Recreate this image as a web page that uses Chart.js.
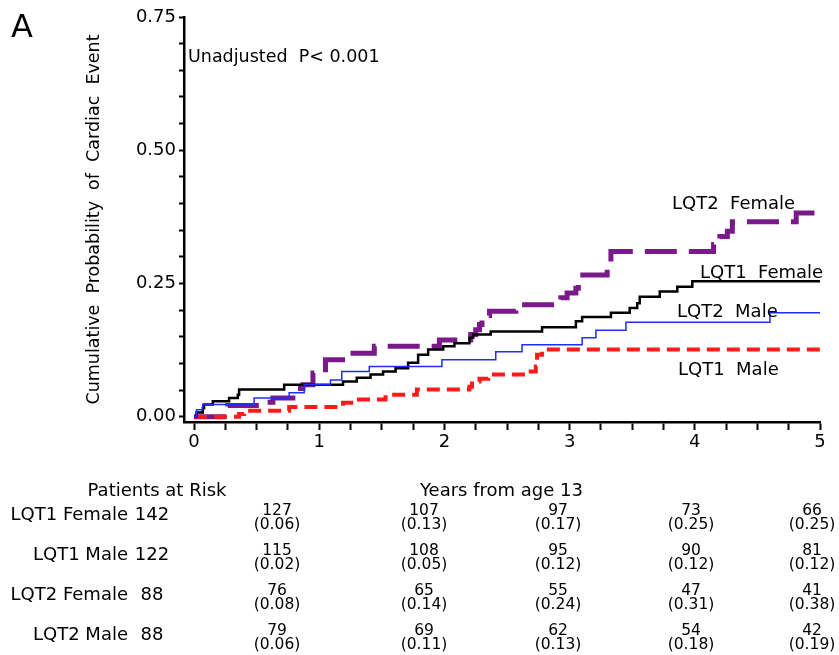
<!DOCTYPE html>
<html>
<head>
<meta charset="utf-8">
<script src="https://cdn.jsdelivr.net/npm/chart.js@4.4.0/dist/chart.umd.min.js"></script>
<style>
  body { margin: 0; background: #fff; }
  canvas { display: block; }
</style>
</head>
<body>
<canvas id="km" width="839" height="655"></canvas>
<script>
// Kaplan-Meier style curves: years from age 13 vs cumulative probability of cardiac event
const lqt1FemaleT = [0, 0.02, 0.07, 0.08, 0.15, 0.28, 0.35, 0.36, 0.72, 1.19, 1.30, 1.41, 1.51, 1.61, 1.71, 1.79, 1.87, 1.99, 2.08, 2.20, 2.23, 2.37, 2.78, 3.05, 3.10, 3.33, 3.48, 3.54, 3.56, 3.72, 3.86, 3.98, 5.0];
const lqt1FemaleP = [0, 0.008, 0.016, 0.023, 0.029, 0.035, 0.041, 0.051, 0.060, 0.066, 0.073, 0.079, 0.085, 0.091, 0.101, 0.116, 0.126, 0.132, 0.138, 0.148, 0.154, 0.160, 0.168, 0.179, 0.187, 0.195, 0.204, 0.213, 0.225, 0.235, 0.244, 0.254, 0.254];

const lqt1MaleT = [0, 0.36, 0.40, 0.76, 1.19, 1.29, 1.53, 1.78, 2.20, 2.22, 2.28, 2.35, 2.66, 2.73, 2.74, 2.78, 5.0];
const lqt1MaleP = [0, 0.005, 0.011, 0.018, 0.026, 0.032, 0.041, 0.051, 0.056, 0.066, 0.071, 0.079, 0.085, 0.094, 0.116, 0.126, 0.126];

const lqt2FemaleT = [0, 0.27, 0.55, 0.63, 0.81, 0.85, 0.87, 0.95, 1.05, 1.27, 1.44, 1.96, 2.21, 2.25, 2.28, 2.30, 2.34, 2.36, 2.57, 2.93, 2.98, 3.05, 3.07, 3.30, 3.33, 4.15, 4.20, 4.26, 4.30, 4.81, 5.0];
const lqt2FemaleP = [0, 0.021, 0.027, 0.035, 0.045, 0.053, 0.060, 0.082, 0.107, 0.119, 0.132, 0.144, 0.154, 0.163, 0.173, 0.182, 0.190, 0.198, 0.210, 0.223, 0.232, 0.241, 0.266, 0.285, 0.310, 0.323, 0.338, 0.348, 0.366, 0.382, 0.382];

const lqt2MaleT = [0, 0.02, 0.07, 0.48, 0.76, 0.88, 1.09, 1.18, 1.40, 1.98, 2.41, 2.62, 3.10, 3.21, 3.45, 4.60, 5.0];
const lqt2MaleP = [0, 0.013, 0.023, 0.035, 0.045, 0.060, 0.069, 0.085, 0.094, 0.107, 0.122, 0.135, 0.148, 0.162, 0.177, 0.195, 0.195];

const xTickLabels = [0, 1, 2, 3, 4, 5];
const yTickLabels = [0, 0.25, 0.5, 0.75];

// patients at risk table
const riskGroups = ['LQT1 Female', 'LQT1 Male', 'LQT2 Female', 'LQT2 Male'];
const riskStart = [142, 122, 88, 88];
const riskLqt1Female = [127, 107, 97, 73, 66];
const riskLqt1Male = [115, 108, 95, 90, 81];
const riskLqt2Female = [76, 65, 55, 47, 41];
const riskLqt2Male = [79, 69, 62, 54, 42];
const cumLqt1Female = [0.06, 0.13, 0.17, 0.25, 0.25];
const cumLqt1Male = [0.02, 0.05, 0.12, 0.12, 0.12];
const cumLqt2Female = [0.08, 0.14, 0.24, 0.31, 0.38];
const cumLqt2Male = [0.06, 0.11, 0.13, 0.18, 0.19];

const FONT = '"DejaVu Sans", sans-serif';

function pts(t, p) {
    return t.map((v, i) => ({ x: v, y: p[i] }));
}

// minor ticks: 4 per year on x, every 0.05 on y
const xMinor = [];
for (let i = 0; i <= xTickLabels[xTickLabels.length - 1] * 4; i++) xMinor.push(i / 4);
const yMinor = [];
for (let i = 0; i <= Math.round(yTickLabels[yTickLabels.length - 1] * 20); i++) yMinor.push(i / 20);

const isMajor = (v, list) => list.some(m => Math.abs(m - v) < 1e-6);

// text drawn on the plot and the risk table under it
const textPlugin = {
    id: 'kmText',
    afterDatasetsDraw(chart) {
        const ctx = chart.ctx;
        ctx.save();
        ctx.fillStyle = '#000';
        ctx.textBaseline = 'middle';
        ctx.textAlign = 'left';

        ctx.font = '32px ' + FONT;
        ctx.fillText('A', 11, 29);

        ctx.font = '17.5px ' + FONT;
        ctx.fillText('Unadjusted  P< 0.001', 188, 57);

        ctx.font = '18px ' + FONT;
        ctx.fillText('LQT2  Female', 672, 204);
        ctx.fillText('LQT1  Female', 700, 273);
        ctx.fillText('LQT2  Male', 677, 312);
        ctx.fillText('LQT1  Male', 678, 370);
        ctx.restore();
    },
    afterDraw(chart) {
        const ctx = chart.ctx;
        const counts = [riskLqt1Female, riskLqt1Male, riskLqt2Female, riskLqt2Male];
        const cums = [cumLqt1Female, cumLqt1Male, cumLqt2Female, cumLqt2Male];
        const colX = [277, 424, 558, 691, 812];
        ctx.save();
        ctx.fillStyle = '#000';
        ctx.textBaseline = 'middle';

        ctx.font = '18px ' + FONT;
        ctx.textAlign = 'center';
        ctx.fillText('Patients at Risk', 157, 491);
        ctx.textAlign = 'left';
        ctx.fillText('Years from age 13', 420, 491);

        riskGroups.forEach((g, i) => {
            const yRow = 515 + 40 * i;
            ctx.font = '18px ' + FONT;
            ctx.textAlign = 'right';
            ctx.fillText(g, 128, yRow);
            ctx.textAlign = 'center';
            ctx.fillText(String(riskStart[i]), 152, yRow);

            ctx.font = '15.5px ' + FONT;
            colX.forEach((cx, j) => {
                ctx.fillText(String(counts[i][j]), cx, yRow - 4);
                ctx.fillText('(' + cums[i][j].toFixed(2) + ')', cx, yRow + 10);
            });
        });
        ctx.restore();
    }
};

const ctx = document.getElementById('km').getContext('2d');

const chart = new Chart(ctx, {
    type: 'line',
    data: {
        datasets: [
            {
                label: 'LQT2 Male',
                data: pts(lqt2MaleT, lqt2MaleP),
                borderColor: '#1f2dff',
                borderWidth: 1.5
            },
            {
                label: 'LQT1 Female',
                data: pts(lqt1FemaleT, lqt1FemaleP),
                borderColor: '#000000',
                borderWidth: 2.5
            },
            {
                label: 'LQT1 Male',
                data: pts(lqt1MaleT, lqt1MaleP),
                borderColor: '#ff1a1a',
                borderWidth: 4,
                borderDash: [13, 7]
            },
            {
                label: 'LQT2 Female',
                data: pts(lqt2FemaleT, lqt2FemaleP),
                borderColor: '#7a1a8a',
                borderWidth: 5,
                borderDash: [32, 12]
            }
        ]
    },
    options: {
        responsive: false,
        animation: false,
        devicePixelRatio: 1,
        layout: { padding: { top: 17, right: 19, bottom: 203, left: 0 } },
        elements: {
            point: { radius: 0 },
            // horizontal at the old value, then the jump at the event time
            line: { stepped: 'before', fill: false, tension: 0 }
        },
        plugins: {
            legend: { display: false },
            tooltip: { enabled: false }
        },
        scales: {
            x: {
                type: 'linear',
                min: -0.08,
                max: 5,
                afterBuildTicks: s => { s.ticks = xMinor.map(v => ({ value: v })); },
                afterFit: s => { s.height = 30; },
                ticks: {
                    autoSkip: false,
                    maxRotation: 0,
                    padding: 2,
                    color: '#000',
                    font: { family: FONT, size: 18 },
                    callback: v => isMajor(v, xTickLabels) ? String(Math.round(v)) : ''
                },
                grid: { drawOnChartArea: false, drawTicks: true, tickLength: 8, tickWidth: 2, color: '#000' },
                border: { display: true, color: '#000', width: 2.5 }
            },
            y: {
                min: -0.01,
                max: 0.75,
                afterBuildTicks: s => { s.ticks = yMinor.map(v => ({ value: v })); },
                afterFit: s => { s.width = 184; },
                ticks: {
                    autoSkip: false,
                    padding: 3,
                    color: '#000',
                    font: { family: FONT, size: 18 },
                    callback: v => isMajor(v, yTickLabels) ? v.toFixed(2) : ''
                },
                grid: { drawOnChartArea: false, drawTicks: true, tickLength: 5, tickWidth: 2, color: '#000' },
                border: { display: true, color: '#000', width: 2.5 },
                title: {
                    display: true,
                    text: 'Cumulative  Probability  of  Cardiac  Event',
                    color: '#000',
                    font: { family: FONT, size: 17.5 },
                    padding: { top: 84, bottom: 0 }
                }
            }
        }
    },
    plugins: [textPlugin]
});
</script>
</body>
</html>
